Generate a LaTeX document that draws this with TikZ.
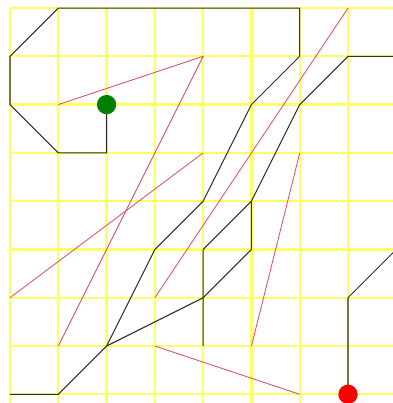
\documentclass[tikz,border=0pt]{standalone}
\usepackage{xcolor}
\usetikzlibrary{calc}
\definecolor{gridyellow}{RGB}{255,255,100}
\definecolor{linkred}{RGB}{220,80,95}
\definecolor{wallgray}{RGB}{45,45,45}

\begin{document}
\begin{tikzpicture}[gridline/.style={gridyellow, line width=1.35pt},
    wall/.style={wallgray, line width=0.6pt},
    link/.style={linkred, line width=0.5pt},
    dot/.style={circle, inner sep=0pt, minimum size=0.4cm}]
  \useasboundingbox (-0.207,0.166) rectangle (7.93,-8.18);
  \clip (-0.207,0.166) rectangle (7.93,-8.18);
  \draw[gridline] (0,0) grid (8.5,-8.5);
  % red links
  \draw[link] (1,-2) -- (4,-1) -- (1,-7);
  \draw[link] (0,-6) -- (4,-3);
  \draw[link] (3,-6) -- (7,0);
  \draw[link] (6,-3) -- (5,-7);
  \draw[link] (3,-7) -- (6,-8);
  % walls and paths
  \coordinate (j1) at (5,-4);
  \coordinate (j2) at (2,-7);
  \draw[wall] (2,-2) -- (2,-3) -- (1,-3) -- (0,-2) -- (0,-1) -- (1,0) -- (6,0) -- (6,-1)
    -- (5,-2) -- (4,-4) -- (3,-5) -- (j2) -- (1,-8) -- (0,-8);
  \draw[wall] (8,-1) -- (7,-1) -- (6,-2) -- (j1) -- (4,-5) -- (4,-7);
  \draw[wall] (j1) -- (5,-5) -- (4,-6) -- (j2);
  \draw[wall] (7,-8) -- (7,-6) -- (8,-5);
  \node[dot, fill=green!50!black] (start) at (2,-2) {};
  \node[dot, fill=red] (goal) at (7,-8) {};
\end{tikzpicture}
\end{document}
